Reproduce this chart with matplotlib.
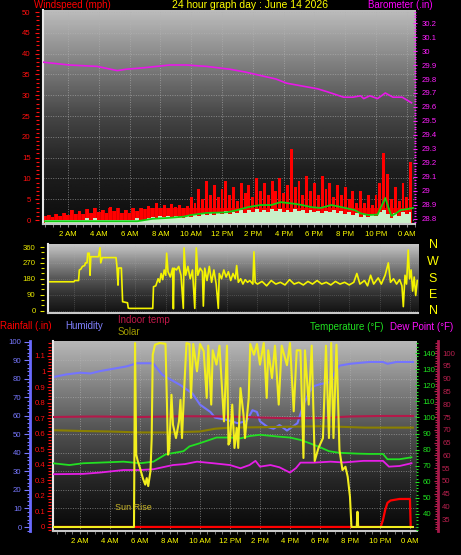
import matplotlib.pyplot as plt
import numpy as np
from matplotlib.ticker import MultipleLocator

plt.rcParams["font.family"] = "Liberation Sans"

# ---- values, x in hours since midnight ----
tick_hours = [2, 4, 6, 8, 10, 12, 14, 16, 18, 20, 22, 24]
time_labels = ["2 AM", "4 AM", "6 AM", "8 AM", "10 AM", "12 PM",
               "2 PM", "4 PM", "6 PM", "8 PM", "10 PM", "0 AM"]

# wind, one value every 15 minutes starting 0:30 (rows = one hour)
wind_start, wind_step = 0.5, 0.25
gust = [
    1.0, 1.2, 0.8, 1.5,
    1.0, 1.6, 1.2, 2.4,
    1.5, 2.2, 1.4, 2.6,
    1.8, 3.0, 2.0, 2.4,
    1.6, 3.2, 2.2, 2.8,
    1.8, 2.4, 1.6, 2.8,
    2.2, 3.0, 2.6, 3.4,
    2.8, 4.2, 3.0, 3.6,
    3.0, 3.8, 3.2, 3.6,
    3.0, 3.4, 5.5, 4.0,
    7.5, 5.0, 9.5, 6.0,
    8.5, 5.5, 7.5, 9.5,
    6.0, 8.0, 4.5, 9.0,
    6.5, 8.5, 5.5, 10.0,
    7.0, 9.0, 6.0, 9.5,
    7.0, 10.0, 6.5, 8.5,
    17.0, 8.0, 9.5, 6.0,
    10.5, 7.0, 9.0, 6.0,
    10.5, 7.5, 9.0, 5.5,
    8.5, 6.0, 8.0, 5.0,
    7.0, 4.0, 7.0, 4.0,
    6.0, 3.5, 6.0, 9.0,
    16.0, 11.0, 5.0, 8.0,
    4.5, 9.0, 5.5, 14.0,
]
speed = [
    0, 0, 0, 0,
    0, 0, 0, 0,
    0, 0, 0, 0.6,
    0, 0.6, 0, 0,
    0, 0, 0, 0,
    0, 0, 0, 0,
    0.4, 0, 0, 0.5,
    0.8, 0.5, 1.0, 0.8,
    1.0, 0.6, 1.0, 0.8,
    0.6, 1.0, 0.8, 1.2,
    1.0, 1.6, 1.2, 2.0,
    1.2, 2.0, 1.4, 2.2,
    1.4, 2.0, 1.8, 2.4,
    1.6, 2.4, 2.0, 2.6,
    2.0, 2.4, 2.0, 2.6,
    2.2, 2.6, 2.0, 2.4,
    2.0, 2.6, 2.2, 2.4,
    1.8, 2.4, 2.0, 2.2,
    1.6, 2.2, 2.0, 2.4,
    1.8, 2.2, 1.4, 2.0,
    1.2, 1.6, 0.8, 1.4,
    0.8, 1.2, 1.0, 2.0,
    2.4, 1.4, 0.6, 1.6,
    1.0, 2.0, 1.4, 2.0,
]
avg_hours = [0.4, 6.5, 7.0, 7.5, 8.5, 9.5, 10.0, 11.0, 12.0, 12.4, 13.0, 13.7, 14.5,
             15.2, 15.8, 16.7, 17.2, 17.8, 18.4, 19.1, 19.5, 20.0, 20.6, 21.0, 21.5,
             22.1, 22.6, 22.85, 23.0, 23.3, 23.6, 24.0, 24.4]
avg_speed = [-0.3, -0.3, 0.0, 0.3, 0.5, 0.8, 1.2, 1.7, 1.8, 1.9, 2.4, 3.1, 3.6,
             3.6, 4.3, 3.9, 3.6, 3.1, 2.9, 3.6, 3.3, 2.9, 2.4, 1.6, 1.2,
             1.3, 5.3, 2.5, 1.0, 1.6, 2.4, 2.6, 2.9]

baro_hours = [0.4, 2.1, 3.9, 5.2, 5.8, 6.9, 8.6, 9.7, 11.0, 12.5, 13.5, 14.7, 15.5, 16.2,
              17.2, 18.2, 18.8, 19.9, 20.5, 21.0, 21.2, 21.6, 22.1, 22.6, 23.1, 23.7, 24.3]
baro = [29.92, 29.90, 29.89, 29.86, 29.87, 29.88, 29.90, 29.90, 29.89, 29.87, 29.85, 29.82,
        29.80, 29.77, 29.75, 29.73, 29.71, 29.67, 29.67, 29.68, 29.66, 29.68, 29.66, 29.70,
        29.67, 29.67, 29.63]
baro_ticks = [28.8, 28.9, 29.0, 29.1, 29.2, 29.3, 29.4, 29.5, 29.6, 29.7, 29.8, 29.9,
              30.0, 30.1, 30.2]

dir_hours = [0.4, 2.0, 2.05, 2.3, 2.35, 2.45, 2.55, 2.7, 2.75, 2.85,
             2.9, 3.0, 3.05, 3.1, 3.6, 3.7, 3.75, 3.85, 4.75, 4.8,
             4.88, 4.92, 5.1, 5.18, 5.5, 5.55, 5.65, 7.15, 7.2, 7.35,
             7.5, 7.6, 7.7, 7.8, 7.9, 8.0, 8.06, 8.15, 8.3, 8.45,
             8.5, 8.55, 8.7, 8.85, 9.0, 9.15, 9.2, 9.3, 9.45, 9.6,
             9.75, 9.9, 10.0, 10.1, 10.25, 10.4, 10.46, 10.55, 10.7, 10.85,
             11.0, 11.15, 11.3, 11.44, 11.5, 11.65, 11.8, 11.95, 12.1, 12.25,
             12.4, 12.55, 12.64, 12.75, 12.9, 13.05, 13.2, 13.35, 13.5, 13.7,
             13.77, 13.85, 14.0, 14.3, 14.6, 14.9, 15.2, 15.5, 15.8, 16.1,
             16.4, 16.7, 17.0, 17.3, 17.6, 17.9, 18.2, 18.5, 18.8, 19.1,
             19.4, 19.7, 20.0, 20.3, 20.5, 20.7, 21.0, 21.2, 21.4, 21.6,
             21.9, 22.1, 22.35, 22.56, 22.7, 22.9, 23.1, 23.3, 23.45, 23.54,
             23.65, 23.75, 23.86, 23.95, 24.05, 24.15, 24.25, 24.35, 24.45]
dir_deg = [163, 163, 170, 170, 230, 235, 250, 255, 270, 270,
           325, 325, 200, 305, 305, 356, 270, 300, 300, 258,
           144, 241, 241, 50, 44, 14, 12, 12, 135, 140,
           180, 160, 210, 175, 230, 200, 325, 220, 190, 240,
           10, 240, 230, 250, 200, 12, 355, 200, 250, 180,
           230, 12, 355, 200, 240, 220, 25, 240, 170, 250,
           160, 230, 150, 12, 210, 180, 230, 190, 220, 170,
           210, 180, 255, 160, 180, 150, 175, 160, 170, 150,
           333, 160, 150, 165, 140, 170, 150, 160, 145, 175,
           150, 160, 145, 165, 150, 170, 150, 160, 145, 165,
           150, 160, 145, 160, 210, 150, 170, 140, 200, 150,
           185, 150, 200, 270, 160, 180, 150, 175, 140, 22,
           200, 150, 343, 180, 230, 110, 190, 85, 170]
compass = ["N", "W", "S", "E", "N"]

hum_hours = [0.2, 1.1, 2.0, 2.7, 3.3, 4.2, 5.1, 5.8, 6.7, 6.9,
             7.5, 8.7, 9.5, 10.0, 10.7, 11.0, 11.8, 12.5, 13.1, 13.5,
             13.8, 14.0, 14.5, 14.9, 15.3, 15.8, 16.5, 16.9, 17.3, 17.6,
             18.0, 18.6, 18.9, 19.3, 20.0, 21.3, 22.2, 22.5, 23.1, 24.2]
humidity = [80.8, 82.3, 83.2, 82.8, 84, 85.3, 86.6, 88.3, 88.3, 88,
            82, 76.5, 72, 66, 62, 59, 57.7, 56, 57, 63,
            62, 57, 54, 53, 55, 52, 56, 66, 73, 76,
            77, 78, 82, 87, 88, 89, 89, 88, 89, 89]

olive_hours = [0.2, 2, 4, 6, 8, 10, 11, 12, 14, 16, 18, 19.5, 21, 24.2]
olive = [52.2, 51.8, 51.5, 51.0, 51.0, 51.5, 53.0, 53.6, 53.8, 54.1, 54.3, 54.0, 53.6, 53.6]

rain_hours = [0.2, 22.05, 22.2, 22.35, 22.5, 22.7, 23.3, 24.0, 24.05]
rain = [0, 0, 0.045, 0.11, 0.155, 0.17, 0.18, 0.18, 0]
rain_ticks = [0, 0.1, 0.2, 0.3, 0.4, 0.5, 0.6, 0.7, 0.8, 0.9, 1.0, 1.1]

indoor_hours = [0.2, 3, 6, 9, 12, 14, 16, 18, 20, 22, 24.2]
indoor = [75.0, 75.2, 75.0, 75.3, 75.2, 74.8, 74.5, 74.6, 75.2, 75.4, 75.4]

temp_hours = [0.2, 1.3, 2.2, 3.3, 4.9, 6.0, 6.9, 7.7, 8.9, 9.3,
              10.0, 11.1, 12.0, 12.7, 13.3, 14.0, 15.3, 16.0, 16.7, 17.3,
              18.0, 18.6, 19.3, 20.5, 21.3, 22.2, 22.5, 23.3, 24.1]
temp = [71.5, 70.4, 71.5, 71.9, 72.5, 71.5, 72.5, 77, 79, 82,
        84, 87.5, 87.5, 87, 88.4, 89.2, 88, 87.5, 86, 84,
        81.5, 79, 78, 77.5, 77.3, 77.3, 74, 74, 75.2]

dew_hours = [0.2, 2.2, 3.3, 4.9, 6.0, 6.9, 8.2, 9.0, 9.8, 10.9,
             12.0, 12.7, 13.3, 13.7, 14.0, 14.7, 15.3, 16.0, 16.4, 16.7,
             17.6, 18.7, 19.6, 20.9, 22.2, 22.6, 23.3, 24.1]
dew = [64.7, 64.9, 65.7, 67.3, 67.3, 67.8, 70.4, 71, 72.5, 71.5,
       70.4, 68.4, 70.4, 73, 69.4, 70.4, 69, 65.7, 68.5, 71.9,
       71.9, 72.5, 72, 73, 73, 69.4, 69.8, 71.5]

solar_hours = [0.2, 5.6, 5.67, 5.75, 5.85, 6.0, 6.2, 6.35, 6.45, 6.55,
               6.7, 6.78, 6.85, 7.0, 7.3, 7.7, 7.8, 7.87, 7.95, 8.1,
               8.2, 8.4, 8.6, 8.7, 8.8, 8.95, 9.1, 9.3, 9.4, 9.55,
               9.8, 10.0, 10.25, 10.45, 10.55, 10.75, 10.85, 11.1, 11.3, 11.6,
               11.8, 11.9, 12.0, 12.15, 12.3, 12.45, 12.55, 12.7, 12.9, 13.0,
               13.25, 13.35, 13.6, 13.8, 14.0, 14.25, 14.45, 14.55, 14.8, 15.0,
               15.25, 15.45, 15.8, 16.0, 16.25, 16.45, 16.7, 16.9, 17.0, 17.25,
               17.45, 17.65, 17.9, 18.2, 18.4, 18.6, 18.75, 18.9, 19.1, 19.3,
               19.5, 19.7, 19.85, 20.0, 20.1, 20.45, 20.5, 20.55, 24.2]
solar = [0, 0, 989, 389, 355, 317, 260, 228, 263, 220,
         301, 478, 926, 980, 989, 985, 658, 389, 420, 711,
         550, 478, 568, 684, 478, 747, 989, 984, 694, 984,
         837, 984, 945, 694, 975, 658, 950, 873, 975, 568,
         975, 443, 460, 658, 425, 532, 425, 747, 604, 478,
         694, 984, 926, 984, 873, 989, 694, 950, 801, 975,
         658, 975, 870, 989, 622, 950, 950, 371, 950, 658,
         975, 355, 425, 478, 975, 478, 989, 478, 980, 414,
         306, 324, 270, 163, 0, 0, 82, 0, 0]

# ---- layout helpers (pixel boxes of the 461x555 picture) ----
W, H = 461, 555
fig = plt.figure(figsize=(W / 100, H / 100), dpi=100, facecolor="black")


def box(left, top, right, bottom):
    return [left / W, 1 - bottom / H, (right - left) / W, (bottom - top) / H]


def backdrop(rect, stops):
    # grey-to-black shading behind each panel
    bg = fig.add_axes(rect)
    shade = np.interp(np.linspace(0, 1, 256), [0, 0.25, 0.5, 0.75, 1], stops)
    bg.imshow(shade.reshape(-1, 1), cmap="gray", vmin=0, vmax=1, aspect="auto")
    bg.axis("off")


def border(ax):
    ax.plot([0, 0], [0, 1], transform=ax.transAxes, color="#e8e8e8", lw=1.5,
            clip_on=False, zorder=6)
    ax.plot([0, 1], [0, 0], transform=ax.transAxes, color="#c8c8c8", lw=1.5,
            clip_on=False, zorder=6)


def hide_spines(ax):
    for s in ax.spines.values():
        s.set_visible(False)


grid_style = dict(color="#b4b4b4", lw=0.7, ls=(0, (1, 1.5)), alpha=0.6)
tick_font = 5.6


def text_px(x, y, s, color, size=7, ha="left"):
    fig.text(x / W, 1 - y / H, s, color=color, fontsize=size, ha=ha, va="center")


# ---- top panel: wind speed + barometer ----
rect1 = box(43, 10, 415, 224)
backdrop(rect1, [0.74, 0.5, 0.27, 0.12, 0.05])
ax1 = fig.add_axes(rect1)
ax1.set_facecolor("none")
wind_hours = wind_start + wind_step * np.arange(len(gust))
gust_arr = np.array(gust)
# low red fill plus narrow gust bars for the spiky look
ax1.fill_between(wind_hours, -0.6, np.minimum(gust_arr, 3.0), step="mid",
                 color="#e00000", lw=0, zorder=2)
ax1.bar(wind_hours, gust_arr + 0.6, bottom=-0.6, width=0.19, color="#ff0000", lw=0, zorder=2)
ax1.fill_between(wind_hours, -0.6, speed, step="mid", color="#c8f0c8", lw=0, zorder=3)
ax1.plot(avg_hours, avg_speed, color="#10d010", lw=1.3, zorder=4)
ax1.set_xlim(0.38, 24.53)
ax1.set_ylim(-0.96, 50.5)
ax1.set_axisbelow(True)
ax1.set_yticks(range(0, 51, 5))
ax1.yaxis.set_minor_locator(MultipleLocator(1))
ax1.set_xticks(tick_hours, time_labels)
ax1.xaxis.set_minor_locator(MultipleLocator(0.5))
ax1.grid(True, **grid_style)
hide_spines(ax1)
ax1.spines["left"].set_position(("outward", 3))
ax1.tick_params(axis="y", which="both", colors="#ff1010", labelsize=tick_font, width=0.8, pad=3)
ax1.tick_params(axis="y", which="major", length=3)
ax1.tick_params(axis="y", which="minor", length=2)
ax1.tick_params(axis="x", which="both", colors="#909090", labelcolor="#ffff00",
                labelsize=tick_font, length=2, pad=3)
border(ax1)

ax1b = ax1.twinx()
ax1b.plot(baro_hours, baro, color="#e818e8", lw=1.2)
ax1b.set_ylim(28.764, 30.293)
ax1b.set_yticks(baro_ticks, [f"{v:g}" for v in baro_ticks])
ax1b.yaxis.set_minor_locator(MultipleLocator(0.02))
hide_spines(ax1b)
ax1b.tick_params(axis="y", which="both", colors="#ff20ff", labelsize=tick_font,
                 direction="inout", width=0.8, pad=3)
ax1b.tick_params(axis="y", which="major", length=3)
ax1b.tick_params(axis="y", which="minor", length=2)

text_px(34, 5.5, "Windspeed (mph)", "#ff0000")
text_px(250, 5.5, "24 hour graph day : June 14 2026", "#ffff00", size=7.5, ha="center")
text_px(368, 5.5, "Barometer (.in)", "#ff00ff")

# ---- middle panel: wind direction ----
rect2 = box(48, 244, 418, 313)
backdrop(rect2, [0.78, 0.55, 0.34, 0.18, 0.07])
ax2 = fig.add_axes(rect2)
ax2.set_facecolor("none")
ax2.plot(dir_hours, dir_deg, color="#f4f400", lw=1.2)
ax2.set_xlim(0.3, 24.5)
ax2.set_ylim(-14, 377)
ax2.set_yticks([0, 90, 180, 270, 360])
ax2.yaxis.set_minor_locator(MultipleLocator(30))
ax2.set_xticks(tick_hours)
ax2.set_axisbelow(True)
ax2.grid(True, color="#b4b4b4", lw=0.6, ls=(0, (1, 1.5)), alpha=0.35)
hide_spines(ax2)
ax2.spines["left"].set_position(("outward", 3))
ax2.tick_params(axis="x", length=0, labelbottom=False)
ax2.tick_params(axis="y", which="both", colors="#e8e800", labelsize=tick_font, width=0.8, pad=3)
ax2.tick_params(axis="y", which="major", length=3)
ax2.tick_params(axis="y", which="minor", length=2)
border(ax2)
for letter, y in zip(compass, [245, 261.5, 279, 295.5, 310.5]):
    text_px(433, y, letter, "#ffff00", size=9, ha="center")

# ---- bottom panel: humidity, rain, temps, solar ----
rect3 = box(53, 341, 417, 531)
backdrop(rect3, [0.72, 0.5, 0.3, 0.14, 0.03])
ax3 = fig.add_axes(rect3)
ax3.set_facecolor("none")
ax3.plot(hum_hours, humidity, color="#7474ff", lw=1.5)
ax3.plot(olive_hours, olive, color="#8a8000", lw=1.5)
ax3.set_xlim(0.2, 24.47)
ax3.set_ylim(-2.15, 100.3)
ax3.set_yticks(range(0, 101, 10))
ax3.yaxis.set_minor_locator(MultipleLocator(2))
ax3.set_xticks(tick_hours, time_labels)
ax3.xaxis.set_minor_locator(MultipleLocator(0.5))
ax3.set_axisbelow(True)
ax3.grid(True, **grid_style)
hide_spines(ax3)
ax3.spines["left"].set_visible(True)
ax3.spines["left"].set_position(("outward", 16.6))
ax3.spines["left"].set_color("#6a6aff")
ax3.spines["left"].set_linewidth(2)
ax3.tick_params(axis="y", which="both", colors="#7878ff", labelsize=tick_font, width=0.8, pad=2)
ax3.tick_params(axis="y", which="major", length=4)
ax3.tick_params(axis="y", which="minor", length=2)
ax3.tick_params(axis="x", which="both", colors="#909090", labelcolor="#ffff00",
                labelsize=tick_font, length=2, pad=3)

ax3r = ax3.twinx()
ax3r.plot(rain_hours, rain, color="#ff0000", lw=1.6)
ax3r.set_ylim(-0.026, 1.196)
ax3r.yaxis.tick_left()
ax3r.set_yticks(rain_ticks, [f"{v:g}" for v in rain_ticks])
ax3r.yaxis.set_minor_locator(MultipleLocator(0.02))
hide_spines(ax3r)
ax3r.spines["left"].set_position(("outward", 1.5))
ax3r.tick_params(axis="y", which="both", colors="#ff1010", labelsize=tick_font, width=0.8, pad=1)
ax3r.tick_params(axis="y", which="major", length=3)
ax3r.tick_params(axis="y", which="minor", length=2)
border(ax3r)

ax3i = ax3.twinx()
ax3i.plot(indoor_hours, indoor, color="#b4184a", lw=1.5)
ax3i.set_ylim(30.3, 104.8)
ax3i.set_yticks(range(35, 101, 5))
ax3i.yaxis.set_minor_locator(MultipleLocator(1))
hide_spines(ax3i)
ax3i.spines["right"].set_visible(True)
ax3i.spines["right"].set_position(("outward", 15.1))
ax3i.spines["right"].set_color("#a8184a")
ax3i.spines["right"].set_linewidth(2)
ax3i.tick_params(axis="y", which="both", colors="#b8204e", labelsize=tick_font,
                 direction="in", width=0.8, pad=3)
ax3i.tick_params(axis="y", which="major", length=3)
ax3i.tick_params(axis="y", which="minor", length=2)

ax3t = ax3.twinx()
ax3t.plot(temp_hours, temp, color="#22e022", lw=1.3)
ax3t.plot(dew_hours, dew, color="#e61ee6", lw=1.3)
ax3t.set_ylim(29.4, 147.5)
ax3t.set_yticks(range(40, 141, 10))
ax3t.yaxis.set_minor_locator(MultipleLocator(2))
hide_spines(ax3t)
ax3t.tick_params(axis="y", which="both", colors="#20e020", labelsize=tick_font,
                 direction="inout", width=0.8, pad=2.5)
ax3t.tick_params(axis="y", which="major", length=3)
ax3t.tick_params(axis="y", which="minor", length=2)

ax3s = ax3.twinx()
ax3s.plot(solar_hours, solar, color="#f2ee1e", lw=1.5)
ax3s.set_ylim(-21.5, 1000)
ax3s.axis("off")

text_px(133, 508, "Sun Rise", "#c8b428", size=6.5, ha="center")
text_px(0, 326, "Rainfall (.in)", "#ff0000")
text_px(65, 326, "Humidity", "#8080ff")
text_px(118, 320, "Indoor temp", "#c01848")
text_px(118, 332, "Solar", "#a09a00")
text_px(310, 327, "Temperature (°F)", "#20e020")
text_px(390, 327, "Dew Point (°F)", "#ff10ff")

fig.savefig("out.png", dpi=100, facecolor="black")
